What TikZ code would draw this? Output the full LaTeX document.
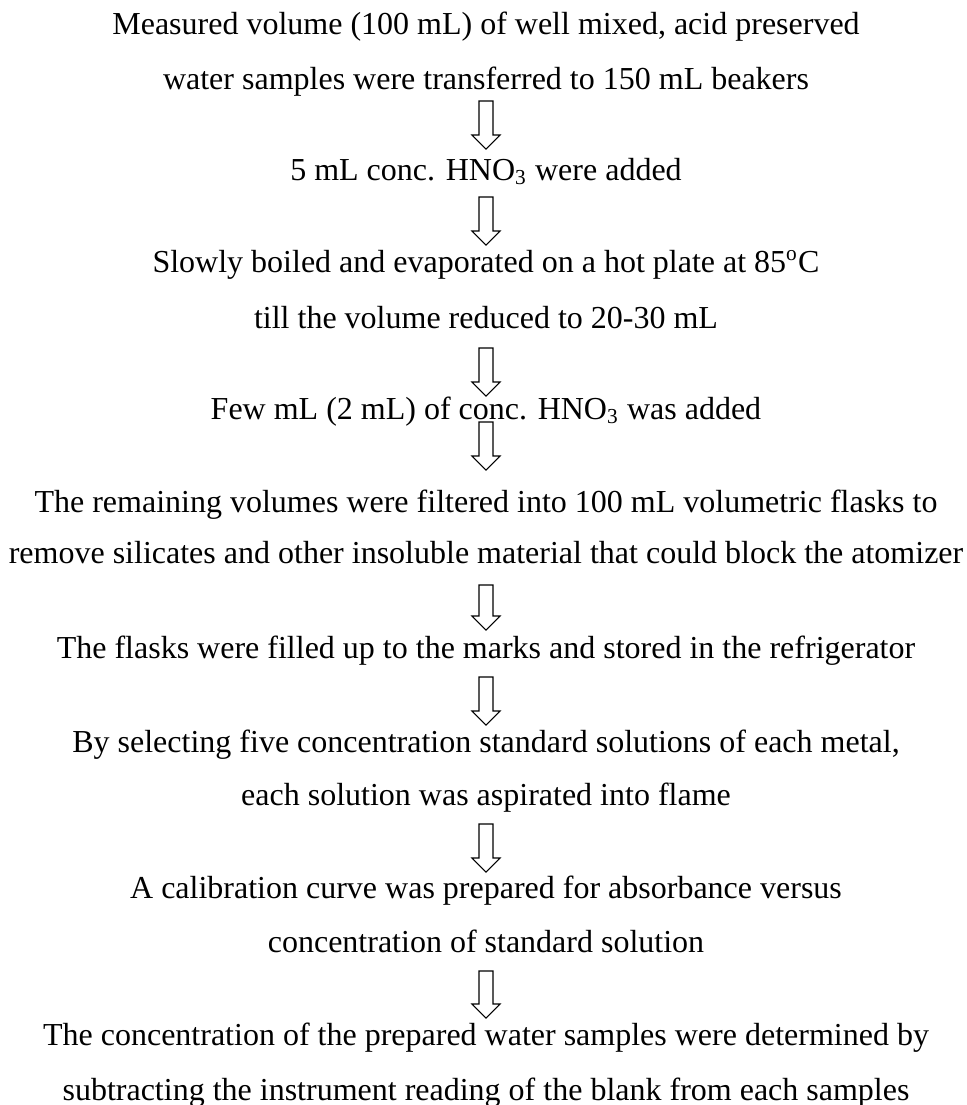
\documentclass[tikz,border=0pt]{standalone}
\usepackage{fontspec}
\setmainfont{Liberation Serif}
\usetikzlibrary{calc}

\tikzset{
	steptext/.style={anchor=base, inner sep=0pt, font=\fontsize{12}{14}\selectfont},
	blockarrow/.style={draw, line width=0.4pt, line join=miter,
		to path={($(\tikztostart)+(-7,0)$) -- ($(\tikztotarget)+(-7,-14)$) -- ($(\tikztotarget)+(-14,-14)$) -- (\tikztotarget) -- ($(\tikztotarget)+(14,-14)$) -- ($(\tikztotarget)+(7,-14)$) -- ($(\tikztostart)+(7,0)$) -- cycle}}
}

\begin{document}
\begin{tikzpicture}[x=0.375pt, y=-0.375pt]
		
		\useasboundingbox (0,0) rectangle (967,1105);
		
		% Steps
		\node[steptext] (meas1) at (486,34) {Measured volume (100 mL) of well mixed, acid preserved};
		\node[steptext] (meas2) at (486,89) {water samples were transferred to 150 mL beakers};
		
		\node[steptext] (acid) at (486,180) {5 mL conc. HNO\textsubscript{3} were added};
		
		\node[steptext] (boil1) at (486,272) {Slowly boiled and evaporated on a hot plate at 85\textsuperscript{o}C};
		\node[steptext] (boil2) at (486,328) {till the volume reduced to 20-30 mL};
		
		\node[steptext] (few) at (486,419) {Few mL (2 mL) of conc. HNO\textsubscript{3} was added};
		
		\node[steptext] (filt1) at (486,512) {The remaining volumes were filtered into 100 mL volumetric flasks to};
		\node[steptext] (filt2) at (486,563) {remove silicates and other insoluble material that could block the atomizer};
		
		\node[steptext] (flask) at (486,658) {The flasks were filled up to the marks and stored in the refrigerator};
		
		\node[steptext] (std1) at (486,752) {By selecting five concentration standard solutions of each metal,};
		\node[steptext] (std2) at (486,805) {each solution was aspirated into flame};
		
		\node[steptext] (calib1) at (486,898) {A calibration curve was prepared for absorbance versus};
		\node[steptext] (calib2) at (486,952) {concentration of standard solution};
		
		\node[steptext] (conc1) at (486,1045) {The concentration of the prepared water samples were determined by};
		\node[steptext] (conc2) at (486,1100) {subtracting the instrument reading of the blank from each samples};
		
		% Arrows
		\foreach \a/\da/\b/\db in {meas2/12/acid/-31, acid/17/boil1/-27, boil2/20/few/-23, few/3/filt1/-42, filt2/22/flask/-28, flask/19/std1/-27, std2/19/calib1/-26, calib2/19/conc1/-27}
			\draw[blockarrow] ($(\a.base)+(0,\da)$) to ($(\b.base)+(0,\db)$);
		
	\end{tikzpicture}
\end{document}
